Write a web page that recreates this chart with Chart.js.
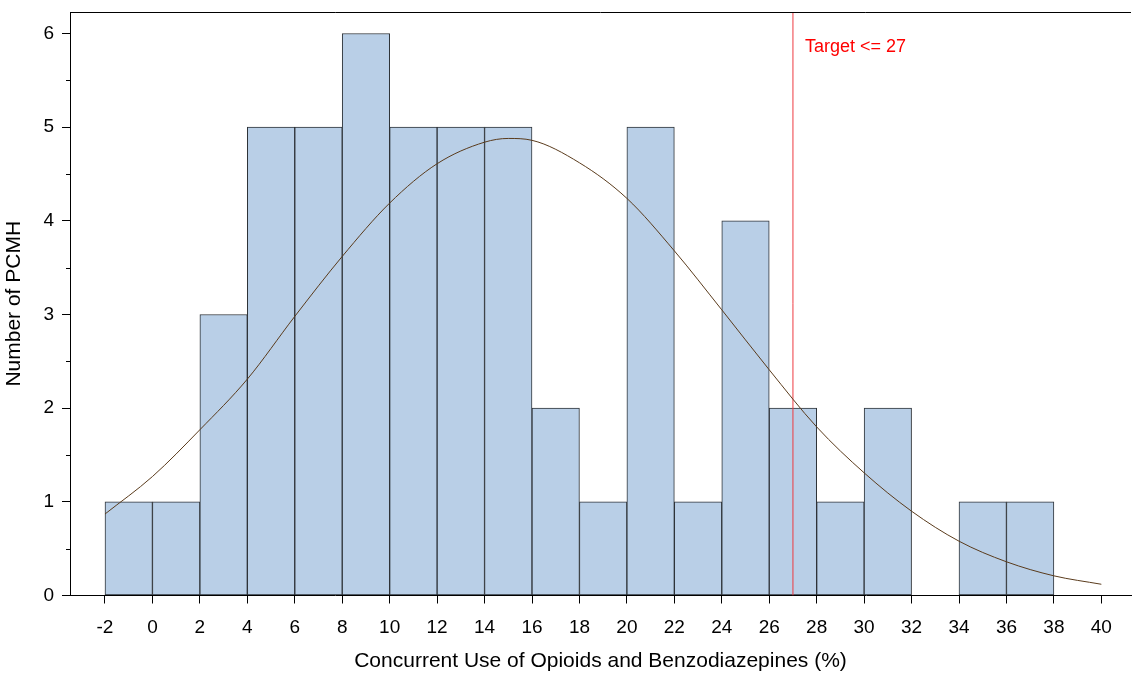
<!DOCTYPE html>
<html>
<head>
<meta charset="utf-8">
<script src="https://cdn.jsdelivr.net/npm/chart.js@4/dist/chart.umd.min.js"></script>
<style>
  body { margin: 0; background: #fff; }
  canvas { display: block; }
</style>
</head>
<body>
<canvas id="hist" width="1139" height="675"></canvas>
<script>
// histogram bins (left edge of each 2-point bin) and counts
const binStarts = [-2, 0, 2, 4, 6, 8, 10, 12, 14, 16, 18, 20, 22, 24, 26, 28, 30, 32, 34, 36];
const counts    = [ 1, 1, 3, 5, 5, 6,  5,  5,  5,  2,  1,  5,  1,  4,  2,  1,  2,  0,  1,  1];
const binWidth = 2;

// fitted normal curve
const curveX = [-2, 0, 2, 4, 6, 8, 10, 12, 14, 15, 16, 18, 20, 22, 24, 26, 28, 30, 32, 34, 36, 38, 40];
const curveY = [0.87, 1.27, 1.77, 2.31, 2.98, 3.62, 4.19, 4.61, 4.84, 4.88, 4.86, 4.62, 4.24, 3.68, 3.05, 2.41, 1.80, 1.31, 0.90, 0.58, 0.36, 0.21, 0.12];

const targetValue = 27;
const targetLabel = 'Target <= 27';

const xTicks = [-2, 0, 2, 4, 6, 8, 10, 12, 14, 16, 18, 20, 22, 24, 26, 28, 30, 32, 34, 36, 38, 40];
const yTicks = [0, 1, 2, 3, 4, 5, 6];
const yMax = 6.23;

const FONT = "'Liberation Sans', Arial, sans-serif";

// draws the top frame line, minor y ticks and the target label
const extras = {
    id: 'extras',
    afterDraw(chart) {
        const ctx = chart.ctx;
        const area = chart.chartArea;
        const x = chart.scales.x, y = chart.scales.y;
        ctx.save();
        ctx.strokeStyle = '#000';
        ctx.lineWidth = 1;
        ctx.beginPath();
        ctx.moveTo(area.left, Math.round(area.top) + 0.5);
        ctx.lineTo(area.right, Math.round(area.top) + 0.5);
        for (let i = 0; i < yTicks.length - 1; i++) {
            const py = Math.round(y.getPixelForValue(yTicks[i] + 0.5)) + 0.5;
            ctx.moveTo(area.left - 4, py);
            ctx.lineTo(area.left, py);
        }
        ctx.stroke();
        ctx.fillStyle = '#ff0000';
        ctx.font = '18px ' + FONT;
        ctx.textBaseline = 'middle';
        ctx.fillText(targetLabel, x.getPixelForValue(targetValue) + 12, area.top + 35);
        ctx.restore();
    }
};

new Chart(document.getElementById('hist'), {
    type: 'bar',
    data: {
        datasets: [{
            type: 'line',
            label: 'Normal',
            data: curveX.map((v, i) => ({ x: v, y: curveY[i] })),
            borderColor: '#5a3b1c',
            borderWidth: 1,
            pointRadius: 0,
            fill: false,
            cubicInterpolationMode: 'monotone',
            order: 1
        }, {
            type: 'line',
            label: 'Target',
            data: [{ x: targetValue, y: 0 }, { x: targetValue, y: yMax }],
            borderColor: '#ee3a40',
            borderWidth: 1,
            pointRadius: 0,
            fill: false,
            order: 2
        }, {
            label: 'Number of PCMH',
            data: binStarts.map((s, i) => ({ x: s + binWidth / 2, y: counts[i] })),
            backgroundColor: '#b9cfe7',
            borderColor: '#2e3338',
            borderWidth: 1,
            borderSkipped: false,
            barPercentage: 1,
            categoryPercentage: 1,
            order: 3
        }]
    },
    options: {
        responsive: false,
        animation: false,
        layout: { padding: { top: 12, right: 8, left: 0, bottom: 0 } },
        plugins: {
            legend: { display: false },
            tooltip: { enabled: false }
        },
        scales: {
            x: {
                type: 'linear',
                offset: false,
                min: -3.475,
                max: 41.25,
                afterBuildTicks: s => { s.ticks = xTicks.map(v => ({ value: v })); },
                afterFit: s => { s.height = 79.5; },
                grid: { display: true, drawOnChartArea: false, offset: false, tickLength: 8, tickColor: '#000' },
                border: { display: true, color: '#000', width: 1 },
                ticks: { color: '#000', font: { family: FONT, size: 19 }, padding: 13, maxRotation: 0, autoSkip: false },
                title: {
                    display: true,
                    text: 'Concurrent Use of Opioids and Benzodiazepines (%)',
                    color: '#000',
                    font: { family: FONT, size: 21 },
                    padding: { top: 0, bottom: 1 }
                }
            },
            y: {
                min: 0,
                max: yMax,
                afterBuildTicks: s => { s.ticks = yTicks.map(v => ({ value: v })); },
                afterFit: s => { s.width = 70; s.paddingTop = 0; s.paddingBottom = 0; },
                grid: { display: true, drawOnChartArea: false, tickLength: 8, tickColor: '#000' },
                border: { display: true, color: '#000', width: 1 },
                ticks: { color: '#000', font: { family: FONT, size: 19 }, padding: 8 },
                title: {
                    display: true,
                    text: 'Number of PCMH',
                    color: '#000',
                    font: { family: FONT, size: 21 },
                    padding: { top: 2, bottom: 0 }
                }
            }
        }
    },
    plugins: [extras]
});
</script>
</body>
</html>
